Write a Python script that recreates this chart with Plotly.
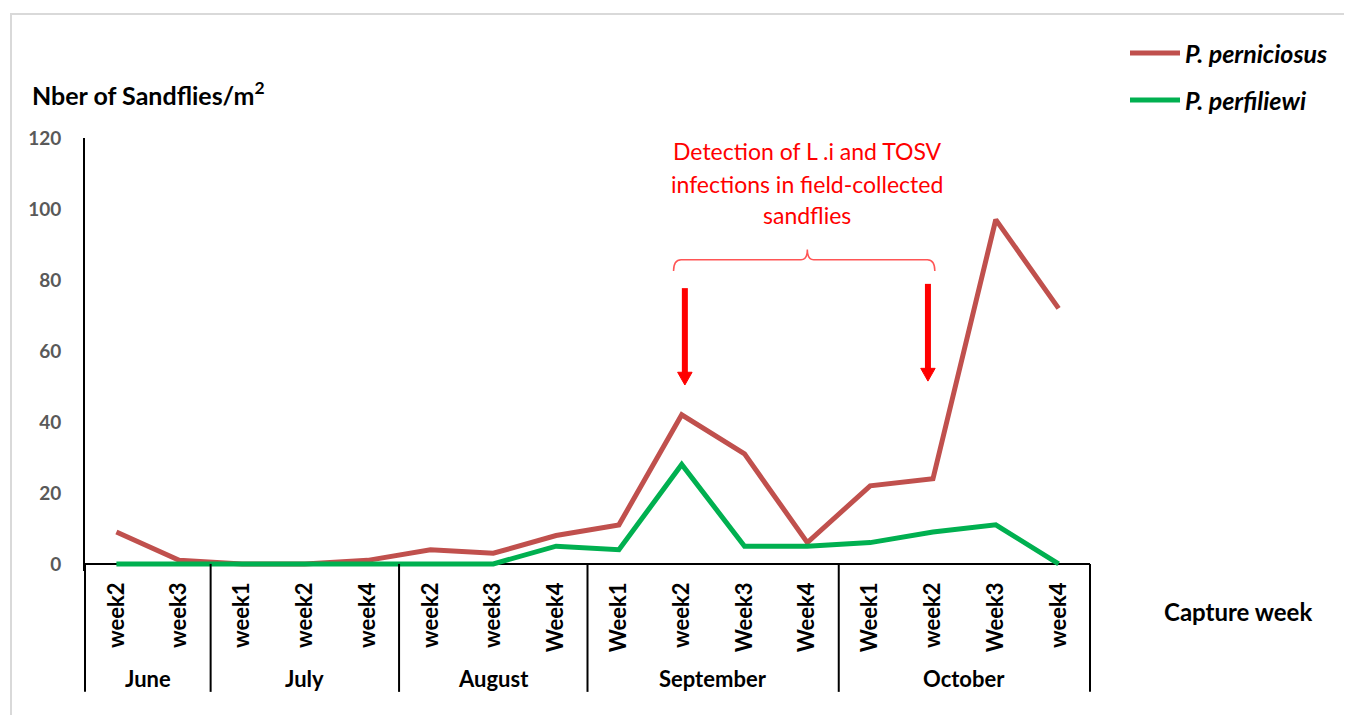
import plotly.graph_objects as go

# ---------------- data ----------------
weeks = ["week2", "week3",
         "week1", "week2", "week4",
         "week2", "week3", "Week4",
         "Week1", "week2", "Week3", "Week4",
         "Week1", "week2", "Week3", "week4"]
months = ["June", "July", "August", "September", "October"]
month_sizes = [2, 3, 3, 4, 4]
perniciosus = [9, 1, 0, 0, 1, 4, 3, 8, 11, 42, 31, 6, 22, 24, 97, 72]
perfiliewi = [0, 0, 0, 0, 0, 0, 0, 5, 4, 28, 5, 5, 6, 9, 11, 0]
y_ticks = [0, 20, 40, 60, 80, 100, 120]

FONT = "Lato"
W, H = 1352, 715
OFF = 8  # page body margin
L, R, T, B = 85 - OFF, 1090 - OFF, 138 - OFF, 571.1 - OFF  # plot area in figure pixels


def px_x(px):
    return (px - OFF - L) / (R - L)


def px_y(py):
    return (B - (py - OFF)) / (B - T)


x = list(range(len(weeks)))
fig = go.Figure()
fig.add_trace(go.Scatter(x=x, y=perniciosus, mode="lines", name="P. perniciosus",
                         line=dict(color="#C0504D", width=5), showlegend=False))
fig.add_trace(go.Scatter(x=x, y=perfiliewi, mode="lines", name="P. perfiliewi",
                         line=dict(color="#00B050", width=5), showlegend=False))

shapes = []
annotations = []

# x axis line at y = 0
shapes.append(dict(type="line", xref="paper", yref="y", x0=0, x1=1, y0=0, y1=0,
                   line=dict(color="black", width=2), layer="below"))
# month separators
n = len(weeks)
bounds = [0]
for s in month_sizes:
    bounds.append(bounds[-1] + s)
for b in bounds:
    shapes.append(dict(type="line", xref="paper", yref="paper",
                       x0=b / n, x1=b / n, y0=px_y(564), y1=px_y(692),
                       line=dict(color="black", width=2)))
# month labels
for i, m in enumerate(months):
    c = (bounds[i] + bounds[i + 1]) / 2 - 0.5
    annotations.append(dict(x=c, xref="x", y=px_y(679), yref="paper", text="<b>%s</b>" % m,
                            yanchor="middle", xanchor="center",
                            showarrow=False, font=dict(family=FONT, size=22, color="black")))

# outer light frame
shapes.append(dict(type="rect", xref="paper", yref="paper",
                   x0=px_x(11), x1=px_x(1420), y0=px_y(14), y1=px_y(780),
                   line=dict(color="#D9D9D9", width=2), layer="below"))

# legend (manual)
for col, lab, py in [("#C0504D", "P. perniciosus", 53), ("#00B050", "P. perfiliewi", 100)]:
    shapes.append(dict(type="line", xref="paper", yref="paper",
                       x0=px_x(1130), x1=px_x(1180), y0=px_y(py), y1=px_y(py),
                       line=dict(color=col, width=5)))
    annotations.append(dict(x=px_x(1183), y=px_y(py), xref="paper", yref="paper",
                            xanchor="left", yanchor="middle", showarrow=False,
                            text="<b><i>%s</i></b>" % lab,
                            font=dict(family=FONT, size=25, color="black")))

# y title
annotations.append(dict(x=px_x(30), y=px_y(93), xref="paper", yref="paper",
                        xanchor="left", yanchor="middle", showarrow=False,
                        text="<b>Nber of Sandflies/m<sup>2</sup></b>",
                        font=dict(family=FONT, size=25, color="black")))
# x title
annotations.append(dict(x=px_x(1238), y=px_y(612), xref="paper", yref="paper",
                        xanchor="center", yanchor="middle", showarrow=False,
                        text="<b>Capture week</b>",
                        font=dict(family=FONT, size=24, color="black")))

# red annotation text, one line each
for line_txt, py in [("Detection of L .i and TOSV", 151),
                     ("infections in field-collected", 184),
                     ("sandflies", 215)]:
    annotations.append(dict(x=11.0, xref="x", y=px_y(py), yref="paper",
                            showarrow=False, yanchor="middle",
                            text=line_txt,
                            font=dict(family=FONT, size=23, color="#FF0000")))
# brace
x0b, x1b, xm = 8.87, 13.03, 11.0
yb, ye, yt = 85.7, 82.5, 88.6
brace = (f"M {x0b},{ye} Q {x0b},{yb} {x0b+0.12},{yb} L {xm-0.1},{yb} "
         f"Q {xm},{yb} {xm},{yt} Q {xm},{yb} {xm+0.1},{yb} L {x1b-0.12},{yb} "
         f"Q {x1b},{yb} {x1b},{ye}")
shapes.append(dict(type="path", xref="x", yref="y", path=brace,
                   line=dict(color="#FF5555", width=1.5)))

# arrows (shaft + triangular head)
head_h, head_w = 3.6, 0.115
for xa, ytop, ybot in [(9.05, 77.7, 50.4), (12.92, 78.9, 51.5)]:
    shapes.append(dict(type="line", xref="x", yref="y", x0=xa, x1=xa,
                       y0=ytop, y1=ybot + head_h - 0.3,
                       line=dict(color="#FF0000", width=6)))
    shapes.append(dict(type="path", xref="x", yref="y",
                       path=f"M {xa-head_w},{ybot+head_h} L {xa+head_w},{ybot+head_h} L {xa},{ybot} Z",
                       fillcolor="#FF0000", line=dict(color="#FF0000", width=1)))

fig.update_layout(
    width=W, height=H,
    margin=dict(l=L, r=W - R, t=T, b=H - B),
    plot_bgcolor="white", paper_bgcolor="white",
    shapes=shapes, annotations=annotations,
    font=dict(family=FONT),
    xaxis=dict(range=[-0.5, n - 0.5], tickvals=x, ticktext=["<b>%s</b>" % w for w in weeks],
               tickangle=-90, showline=False, showgrid=False, zeroline=False,
               ticks="", tickfont=dict(family=FONT, size=22, color="black"),
               ticklabelstandoff=6),
    yaxis=dict(range=[-2, 120], tickvals=y_ticks, ticktext=["<b>%d</b>" % v for v in y_ticks],
               showline=True, linecolor="black", linewidth=2, showgrid=False,
               zeroline=False, ticks="", ticklabelstandoff=18,
               tickfont=dict(family=FONT, size=19, color="#595959")),
)

fig.write_html("out.html")
